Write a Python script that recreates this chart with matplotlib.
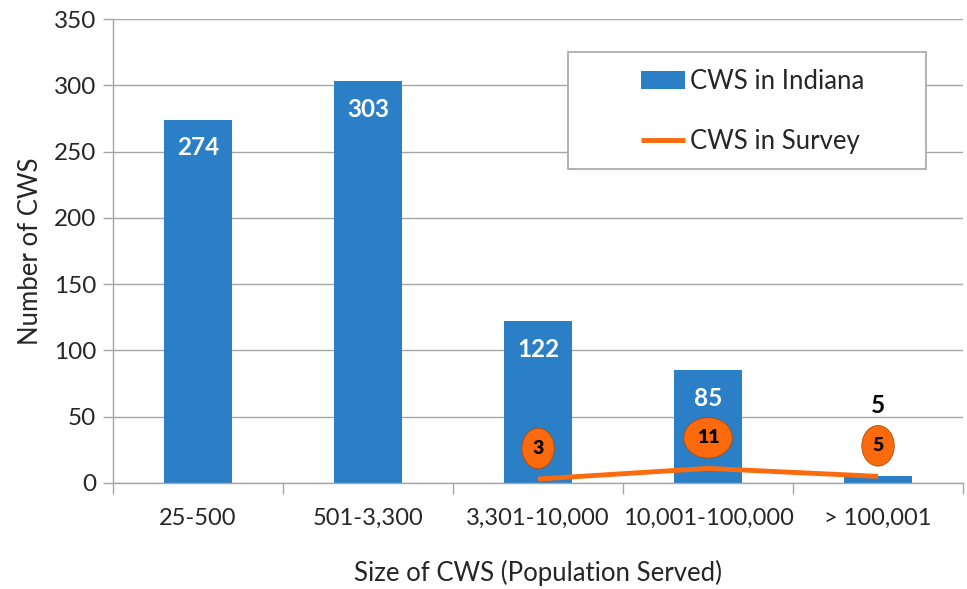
import numpy as np
import matplotlib.pyplot as plt
from matplotlib.patches import Rectangle

# Data
categories = ['25-500', '501-3,300', '3,301-10,000', '10,001-100,000', '> 100,001']
cws_indiana = [274, 303, 122, 85, 5]
cws_survey = [np.nan, np.nan, 3, 11, 5]

blue = '#2a7fc6'
orange = '#fb6a0c'
grey = '#a6a6a6'
text_col = '#262626'

plt.rcParams['font.family'] = ['Lato', 'DejaVu Sans']

fig = plt.figure(figsize=(9.67, 5.89), dpi=100)
ax = fig.add_axes([0.1169, 0.18, 0.8790, 0.7877])

x = np.arange(len(categories))
bars = ax.bar(x, cws_indiana, width=0.4, color=blue, zorder=2, label='CWS in Indiana')
line, = ax.plot(x, cws_survey, color=orange, lw=3.5, zorder=3, label='CWS in Survey',
                solid_capstyle='butt')

# bar labels
for xi, v in zip(x, cws_indiana):
    if v > 50:
        ax.annotate(str(v), (xi, v), xytext=(0, -20), textcoords='offset points',
                    ha='center', va='center', color='white', fontsize=17.5, fontweight='bold')
    else:
        ax.annotate(str(v), (xi, v), xytext=(0, 51), textcoords='offset points',
                    ha='center', va='center', color='black', fontsize=17.5, fontweight='bold')

# survey labels in orange ellipses
for xi, v in zip(x, cws_survey):
    if np.isnan(v):
        continue
    ax.annotate(str(int(v)), (xi, v), xytext=(0, 22), textcoords='offset points',
                ha='center', va='center', color='black', fontsize=14, fontweight='heavy',
                bbox=dict(boxstyle='ellipse,pad=0.3', fc=orange, ec='#b04a08', lw=0.6),
                zorder=4)

ax.set_xlim(-0.5, len(categories) - 0.5)
ax.set_ylim(0, 350)
ax.set_yticks(np.arange(0, 351, 50))
ax.set_xticks(x)
ax.set_xticklabels(categories)
ax.set_xticks(np.arange(-0.5, len(categories), 1), minor=True)
ax.tick_params(axis='x', which='major', length=0, pad=18, labelsize=17, colors=text_col)
ax.tick_params(axis='x', which='minor', length=8, color=grey, width=1)
ax.tick_params(axis='y', length=7, color=grey, width=1, labelsize=17.5, labelcolor=text_col, pad=5)
ax.grid(axis='y', color=grey, lw=1, zorder=0)
ax.set_axisbelow(True)
for s in ['top', 'right']:
    ax.spines[s].set_visible(False)
for s in ['left', 'bottom']:
    ax.spines[s].set_color(grey)
    ax.spines[s].set_linewidth(1)

ax.set_ylabel('Number of CWS', fontsize=18.5, color=text_col, labelpad=8)
ax.set_xlabel('Size of CWS (Population Served)', fontsize=18.5, color=text_col, labelpad=22)

# legend box
ax.add_patch(Rectangle((0.535, 0.677), 0.421, 0.252, transform=ax.transAxes,
                       fc='white', ec=grey, lw=1.2, zorder=5))
leg = ax.legend(handles=[bars, line], loc='upper left', bbox_to_anchor=(0.621, 0.892),
                frameon=False, fontsize=18.5, handlelength=1.7, handletextpad=0.2,
                labelspacing=1.35, borderpad=0, borderaxespad=0)
leg.set_zorder(6)
for t in leg.get_texts():
    t.set_color(text_col)

fig.savefig('out.png', dpi=100)
